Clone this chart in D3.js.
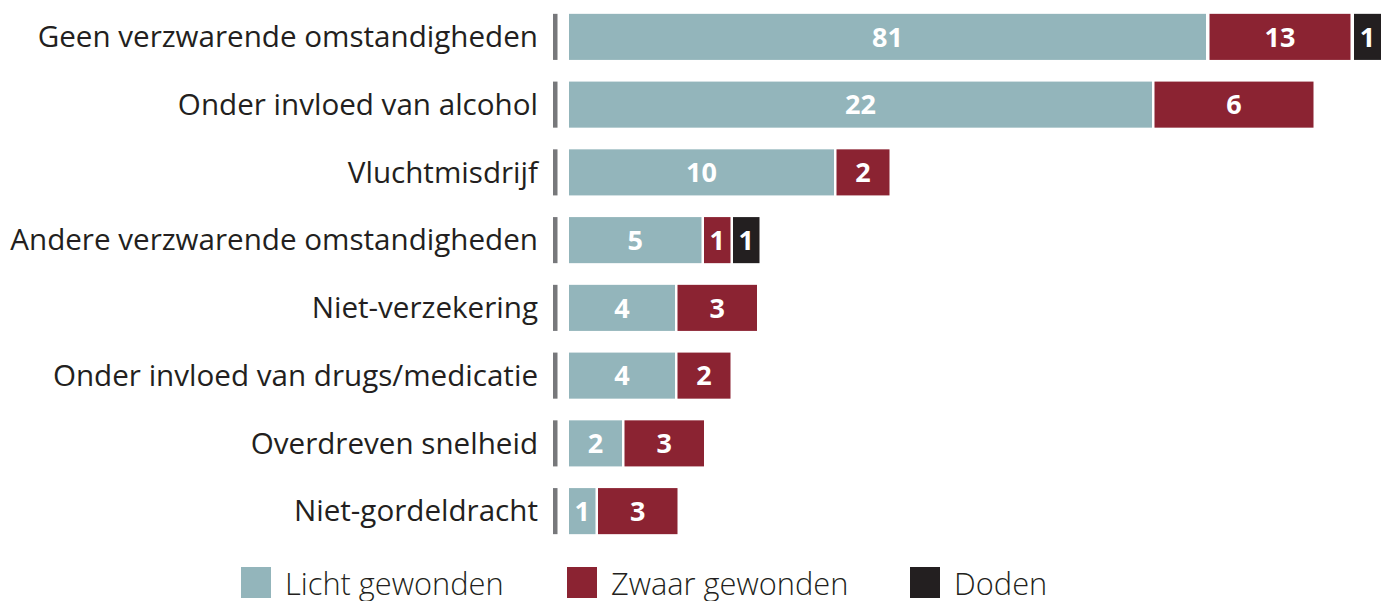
<!DOCTYPE html>
<html>
<head>
<meta charset="utf-8">
<script src="https://cdn.jsdelivr.net/npm/d3@7"></script>
<style>
  html, body { margin: 0; padding: 0; background: #fff; }
  svg { display: block; }
</style>
</head>
<body>
<div id="chart"></div>
<script>
// Categorieën en waarden
var categories = [
  "Geen verzwarende omstandigheden",
  "Onder invloed van alcohol",
  "Vluchtmisdrijf",
  "Andere verzwarende omstandigheden",
  "Niet-verzekering",
  "Onder invloed van drugs/medicatie",
  "Overdreven snelheid",
  "Niet-gordeldracht"
];
var licht = [81, 22, 10, 5, 4, 4, 2, 1];
var zwaar = [13, 6, 2, 1, 3, 2, 3, 3];
var doden = [1, 0, 0, 1, 0, 0, 0, 0];
var seriesNames = ["Licht gewonden", "Zwaar gewonden", "Doden"];
var seriesColors = ["#93b5bb", "#8b2332", "#231f20"];

var width = 1382, height = 601;
var x0 = 569, gap = 2.5;

var svg = d3.select("#chart").append("svg")
  .attr("width", width)
  .attr("height", height)
  .style("font-family", "'Open Sans', 'Noto Sans', sans-serif");

var y = d3.scaleBand()
  .domain(categories)
  .range([3, 545])
  .paddingInner(0.32)
  .paddingOuter(0.16);

// lineaire schaal voor de gewone rijen
var x = d3.scaleLinear().domain([0, 1]).range([0, 26.5]);
// de eerste rij is ingekort (gebroken as)
var xTop = d3.scaleLinear().domain([0, 81, 94, 95]).range([0, 637, 778, 805]);

var rows = categories.map(function (c, i) {
  var vals = [licht[i], zwaar[i], doden[i]];
  var sc = i === 0 ? xTop : x;
  var g0 = i === 0 ? 3.5 : gap;
  var cum = 0, segs = [];
  vals.forEach(function (v, k) {
    if (v > 0) {
      var xs = x0 + sc(cum) + g0 * segs.length;
      var xe = x0 + sc(cum + v) + g0 * segs.length;
      segs.push({ cat: c, value: v, k: k, x: xs, w: xe - xs });
    }
    cum += v;
  });
  return { cat: c, segs: segs };
});

// labels
svg.append("g")
  .selectAll("text")
  .data(categories)
  .enter()
  .append("text")
  .attr("x", 538)
  .attr("y", function (d) { return y(d) + y.bandwidth() / 2; })
  .attr("dy", "0.35em")
  .attr("text-anchor", "end")
  .attr("fill", "#231f20")
  .style("font-size", "29.6px")
  .text(function (d) { return d; });

// grijze streepjes
svg.append("g")
  .selectAll("rect")
  .data(categories)
  .enter()
  .append("rect")
  .attr("x", 553)
  .attr("y", function (d) { return y(d); })
  .attr("width", 4.5)
  .attr("height", y.bandwidth())
  .attr("fill", "#77787b");

// balken
var g = svg.append("g")
  .selectAll("g")
  .data(rows)
  .enter()
  .append("g");

g.selectAll("rect")
  .data(function (d) { return d.segs; })
  .enter()
  .append("rect")
  .attr("x", function (d) { return d.x; })
  .attr("y", function (d) { return y(d.cat); })
  .attr("width", function (d) { return d.w; })
  .attr("height", y.bandwidth())
  .attr("fill", function (d) { return seriesColors[d.k]; });

g.selectAll("text")
  .data(function (d) { return d.segs; })
  .enter()
  .append("text")
  .attr("x", function (d) { return d.x + d.w / 2; })
  .attr("y", function (d) { return y(d.cat) + y.bandwidth() / 2; })
  .attr("dy", "0.36em")
  .attr("text-anchor", "middle")
  .attr("fill", "#fff")
  .style("font-size", "27px")
  .style("font-weight", "bold")
  .text(function (d) { return d.value; });

// legenda
var legendX = [241, 567, 910];
var legend = svg.append("g")
  .selectAll("g")
  .data(seriesNames)
  .enter()
  .append("g")
  .attr("transform", function (d, i) { return "translate(" + legendX[i] + ",567)"; });

legend.append("rect")
  .attr("width", 30)
  .attr("height", 31)
  .attr("fill", function (d, i) { return seriesColors[i]; });

legend.append("text")
  .attr("x", 44)
  .attr("y", 28)
  .attr("fill", "#231f20")
  .style("font-size", "30.8px")
  .style("font-weight", 300)
  .text(function (d) { return d; });
</script>
</body>
</html>
